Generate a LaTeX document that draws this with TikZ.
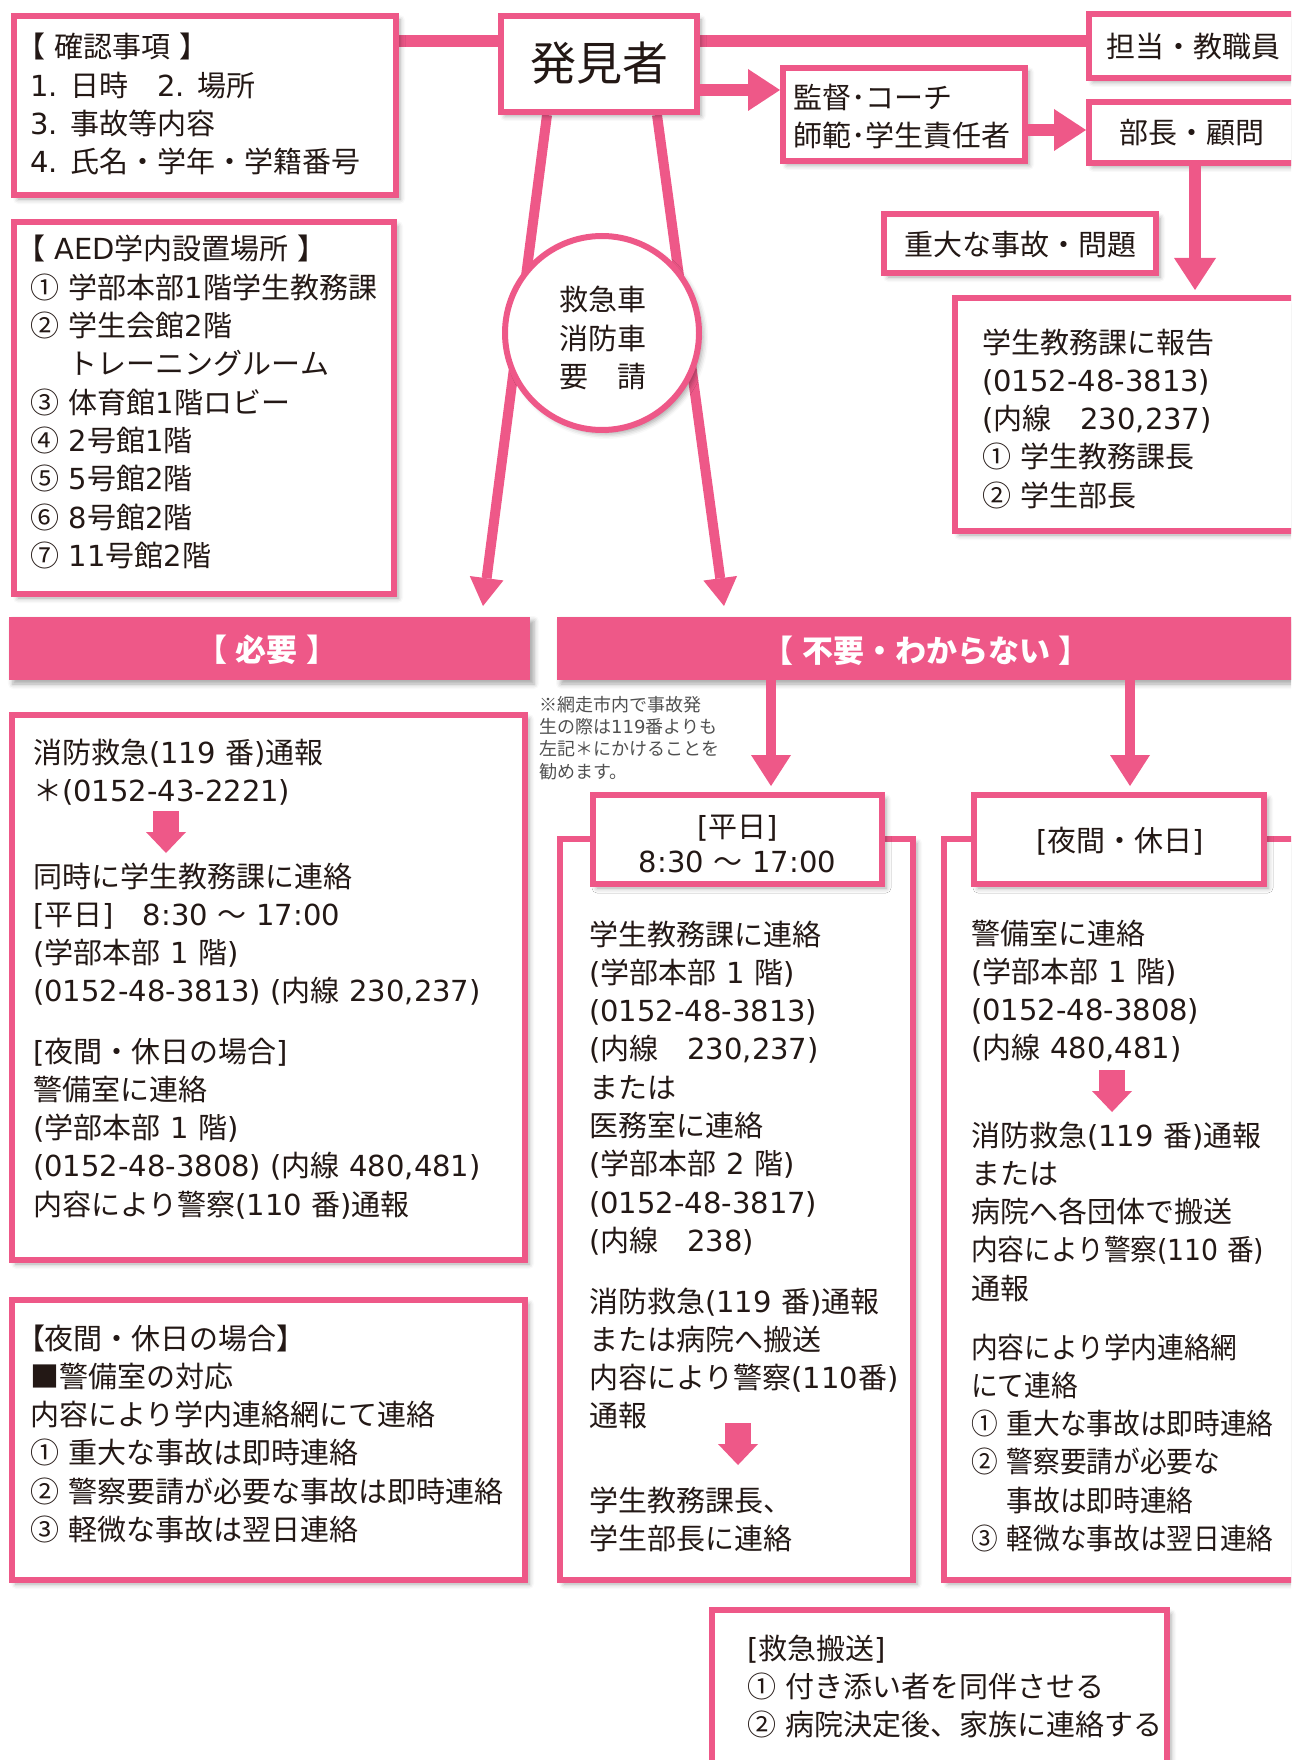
\documentclass[tikz,border=0pt]{standalone}
\usepackage{fontspec}
\setmainfont{Noto Sans CJK JP}[WordSpace=1.5]
\newfontfamily\latf{DejaVu Sans}
\newfontfamily\paltf{Noto Sans CJK JP}[RawFeature=+palt]
\usetikzlibrary{arrows.meta,shadows.blur,fit}
\definecolor{pk}{RGB}{238,88,136}
\definecolor{ink}{RGB}{35,24,21}
\definecolor{notegray}{RGB}{80,80,80}
\newcommand\nb[1]{{\latf #1}}
\newcommand\lb{{\paltf 【}}
\newcommand\rb{{\paltf 】}}
\newcommand\mlines[1]{\begin{tabular}[t]{@{}l@{}}#1\end{tabular}}
\newcommand\clines[1]{\begin{tabular}[t]{@{}c@{}}#1\end{tabular}}
\pgfdeclarelayer{bg}
\pgfsetlayers{bg,main}
\tikzset{
  shad/.style={blur shadow={shadow xshift=4pt, shadow yshift=-4pt, shadow blur radius=5pt, shadow opacity=35}},
  box/.style={rectangle, draw=pk, line width=6pt, fill=white, inner sep=0pt, shad},
  banner/.style={rectangle, fill=pk, inner sep=0pt, shad},
  ring/.style={circle, draw=pk, line width=6pt, fill=white, inner sep=0pt, minimum size=194pt, shad},
  txt/.style={inner sep=0pt, anchor=base west, text=ink, font=\fontsize{29}{38.3}\selectfont},
  ctxt/.style={txt, anchor=base},
  btxt/.style={inner sep=0pt, anchor=base, text=white, font=\fontsize{31}{35}\selectfont\bfseries},
  note/.style={inner sep=0pt, anchor=base west, text=notegray, font=\fontsize{18}{22.4}\selectfont},
  conn/.style={draw=pk, line width=12pt},
  arr/.style={conn, -{Triangle[width=42pt,length=32pt,line width=0pt]}},
  varr/.style={draw=pk, line width=10pt, -{Triangle[width=40pt,length=31pt,line width=0pt]}},
  darr/.style={draw=pk, line width=10pt, -{Triangle[width=34pt,length=28pt,line width=0pt]}},
  barr/.style={draw=pk, line width=26pt, -{Triangle[width=40pt,length=21pt,line width=0pt]}},
}
\begin{document}
\begin{tikzpicture}[x=1pt,y=-1pt]
\useasboundingbox (0,0) rectangle (1291,1760);
\clip (0,0) rectangle (1291,1760);

% ---------- boxes ----------
\node[box, fit={(14,16) (396,195)}] (kakunin) {};
\node[box, fit={(14,222) (394,594)}] (aed) {};
\node[box, fit={(501,16) (697,112)}] (hakken) {};
\node[box, fit={(1089,14) (1330,78)}] (tanto) {};
\node[box, fit={(783,68) (1025,161)}] (kantoku) {};
\node[box, fit={(1089,102) (1330,163)}] (bucho) {};
\node[box, fit={(884,214) (1156,273)}] (judai) {};
\node[box, fit={(955,298) (1330,531)}] (hokoku) {};
\node[ring] (kyukyu) at (602,333) {};
\node[banner, fit={(9,617) (530,680)}] (hitsuyo) {};
\node[banner, fit={(557,617) (1330,680)}] (fuyo) {};
\node[box, fit={(12,715) (525,1260)}] (hbox) {};
\node[box, fit={(12,1300) (525,1580)}] (ybox) {};
\node[box, fit={(560,839) (913,1580)}] (mbox) {};
\node[box, fit={(593,795) (882,884)}] (mhead) {};
\node[box, fit={(944,839) (1330,1580)}] (rbox) {};
\node[box, fit={(974,795) (1264,884)}] (rhead) {};
\node[box, fit={(712,1610) (1167,1800)}] (kbox) {};

% ---------- connectors ----------
\coordinate (ytop) at (0,41.5);
\coordinate (ya) at (0,90);
\coordinate (yb) at (0,130);
\coordinate (xc) at (1195,0);
\coordinate (dl0) at (547,0);
\coordinate (dl1) at (483,606);
\coordinate (dr0) at (657,0);
\coordinate (dr1) at (724,606);
\coordinate (xm) at (771,0);
\coordinate (xr) at (1130,0);
\begin{pgfonlayer}{bg}
\draw[conn] (kakunin.east |- ytop) -- (hakken.west |- ytop);
\draw[conn] (hakken.east |- ytop) -- (tanto.west |- ytop);
\draw[darr] (hakken.south -| dl0) -- (dl1);
\draw[darr] (hakken.south -| dr0) -- (dr1);
\end{pgfonlayer}
\draw[arr] (hakken.east |- ya) -- (kantoku.west |- ya);
\draw[arr] (kantoku.east |- yb) -- (bucho.west |- yb);
\draw[arr, shorten >=5pt] (bucho.south -| xc) -- (hokoku.north -| xc);
\draw[varr, shorten >=6pt] (fuyo.south -| xm) -- (mhead.north -| xm);
\draw[varr, shorten >=6pt] (fuyo.south -| xr) -- (rhead.north -| xr);

% ---------- block arrows inside boxes ----------
\coordinate (ha0) at (166,811); \coordinate (ha1) at (166,853);
\coordinate (ma0) at (738,1423); \coordinate (ma1) at (738,1465);
\coordinate (ra0) at (1112,1070); \coordinate (ra1) at (1112,1112);
\draw[barr] (ha0) -- (ha1);
\draw[barr] (ma0) -- (ma1);
\draw[barr] (ra0) -- (ra1);

% ---------- texts ----------
\node[txt] (t-kakunin) at (30,58) {\mlines{\lb\ 確認事項\ \rb\\
\nb{1. }日時　\nb{2. }場所\\
\nb{3. }事故等内容\\
\nb{4. }氏名・学年・学籍番号}};

\node[txt] (t-aed) at (30,260) {\mlines{\lb\ \nb{AED}学内設置場所\ \rb\\
① 学部本部\nb{1}階学生教務課\\
② 学生会館\nb{2}階\\
\phantom{② }トレーニングルーム\\
③ 体育館\nb{1}階ロビー\\
④ \nb{2}号館\nb{1}階\\
⑤ \nb{5}号館\nb{2}階\\
⑥ \nb{8}号館\nb{2}階\\
⑦ \nb{11}号館\nb{2}階}};

\node[ctxt, font=\fontsize{46}{50}\selectfont] (t-hakken) at (599,81) {発見者};
\node[txt] (t-tanto) at (1106,58) {担当・教職員};
\node[txt, font=\fontsize{29}{38}\selectfont] (t-kantoku) at (793,109) {\mlines{監督･コーチ\\ 師範･学生責任者}};
\node[txt] (t-bucho) at (1119,144) {部長・顧問};
\node[ctxt] (t-judai) at (1020,256) {重大な事故・問題};

\node[txt] (t-hokoku) at (982,353) {\mlines{学生教務課に報告\\
\nb{(0152-48-3813)}\\
\nb{(}内線　\nb{230,237)}\\
① 学生教務課長\\
② 学生部長}};

\node[txt] (t-kyukyu) at (559,311) {\mlines{救急車\\ 消防車\\ 要　請}};

\node[btxt] (t-hitsuyo) at (267,661) {\lb\hspace{9pt}必要\hspace{9pt}\rb};
\node[btxt] (t-fuyo) at (926,662) {\lb\hspace{9pt}不要・わからない\hspace{9pt}\rb};

\node[note] (t-note) at (539,711) {\mlines{※網走市内で事故発\\
生の際は\nb{119}番よりも\\
左記＊にかけることを\\
勧めます。}};

\node[txt] (t-h1) at (33,763) {\mlines{消防救急\nb{(119 }番\nb{)}通報\\
＊\nb{(0152-43-2221)}}};
\node[txt] (t-h2) at (33,887) {\mlines{同時に学生教務課に連絡\\
\nb{[}平日\nb{]}　\nb{8:30} ～ \nb{17:00}\\
\nb{(}学部本部 \nb{1} 階\nb{)}\\
\nb{(0152-48-3813) (}内線 \nb{230,237)}}};
\node[txt] (t-h3) at (33,1062) {\mlines{\nb{[}夜間・休日の場合\nb{]}\\
警備室に連絡\\
\nb{(}学部本部 \nb{1} 階\nb{)}\\
\nb{(0152-48-3808) (}内線 \nb{480,481)}\\
内容により警察\nb{(110 }番\nb{)}通報}};

\node[txt] (t-ybox) at (30,1349) {\mlines{\lb 夜間・休日の場合\rb\\
■警備室の対応\\
内容により学内連絡網にて連絡\\
① 重大な事故は即時連絡\\
② 警察要請が必要な事故は即時連絡\\
③ 軽微な事故は翌日連絡}};

\node[ctxt, font=\fontsize{29}{35}\selectfont] (t-mhead) at (737.5,837) {\clines{\nb{[}平日\nb{]}\\ \nb{8:30} ～ \nb{17:00}}};

\node[txt] (t-m1) at (589,945) {\mlines{学生教務課に連絡\\
\nb{(}学部本部 \nb{1} 階\nb{)}\\
\nb{(0152-48-3813)}\\
\nb{(}内線　\nb{230,237)}\\
または\\
医務室に連絡\\
\nb{(}学部本部 \nb{2} 階\nb{)}\\
\nb{(0152-48-3817)}\\
\nb{(}内線　\nb{238)}}};
\node[txt] (t-m2) at (589,1312) {\mlines{消防救急\nb{(119 }番\nb{)}通報\\
または病院へ搬送\\
内容により警察\nb{(110}番\nb{)}\\
通報}};
\node[txt] (t-m3) at (589,1511) {\mlines{学生教務課長、\\
学生部長に連絡}};

\node[ctxt] (t-rhead) at (1120,851) {\nb{[}夜間・休日\nb{]}};

\node[txt] (t-r1) at (971,944) {\mlines{警備室に連絡\\
\nb{(}学部本部 \nb{1} 階\nb{)}\\
\nb{(0152-48-3808)}\\
\nb{(}内線 \nb{480,481)}}};
\node[txt] (t-r2) at (971,1146) {\mlines{消防救急\nb{(119 }番\nb{)}通報\\
または\\
病院へ各団体で搬送\\
\scalebox{0.92}[1]{内容により警察\nb{(110 }番\nb{)}}\\
通報}};
\node[txt] (t-r3) at (971,1358) {\scalebox{0.92}[1]{\mlines{内容により学内連絡網\\
にて連絡\\
① 重大な事故は即時連絡\\
② 警察要請が必要な\\
\phantom{② }事故は即時連絡\\
③ 軽微な事故は翌日連絡}}};

\node[txt] (t-kbox) at (747,1659) {\mlines{\nb{[}救急搬送\nb{]}\\
① 付き添い者を同伴させる\\
② 病院決定後、家族に連絡する}};
\end{tikzpicture}
\end{document}
